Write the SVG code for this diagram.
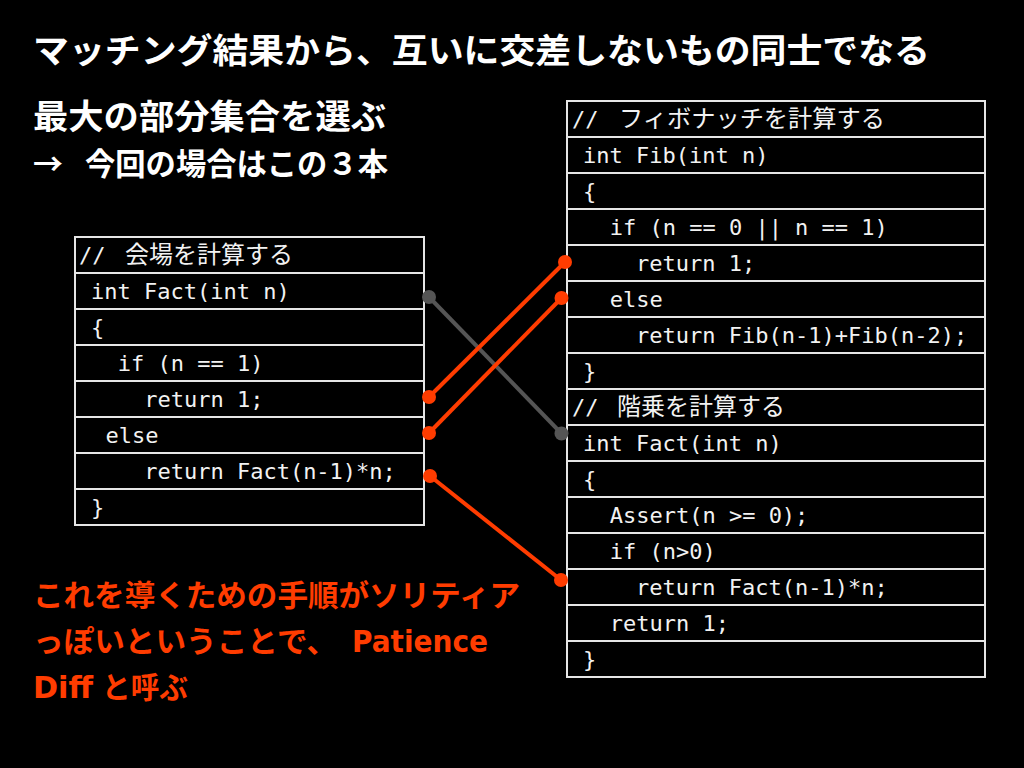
<svg xmlns="http://www.w3.org/2000/svg" width="1024" height="768" viewBox="0 0 1024 768">
<defs>
<style>
.bg{fill:#000}
.row{fill:#000;stroke:#e6e6e6;stroke-width:2}
.code{font-family:"DejaVu Sans Mono","Liberation Mono","Noto Sans CJK JP",monospace;font-size:22px;fill:#f2f2f2}
.jp{font-family:"Noto Sans CJK JP","Noto Sans",sans-serif;font-size:24px;fill:#f2f2f2}
.title{font-family:"Noto Sans CJK JP","Noto Sans",sans-serif;font-weight:700;font-size:34px;fill:#fff}
.note{font-family:"Noto Sans CJK JP","Noto Sans",sans-serif;font-weight:700;font-size:30px;fill:#ff3c00}
.latin{font-family:"DejaVu Sans","Noto Sans",sans-serif;font-weight:700;font-size:30px;fill:#ff3c00}
.gline{stroke:#555;stroke-width:4;fill:none}
.oline{stroke:#ff3c00;stroke-width:4;fill:none}
.gdot{fill:#555}
.odot{fill:#ff3c00}
</style>
</defs>
<rect class="bg" x="0" y="0" width="1024" height="768"/>

<g id="title">
<text class="title" x="33" y="63" textLength="897" lengthAdjust="spacingAndGlyphs">マッチング結果から、互いに交差しないもの同士でなる</text>
<text class="title" x="33" y="129" textLength="353" lengthAdjust="spacingAndGlyphs">最大の部分集合を選ぶ</text>
<text class="title" x="33" y="175" font-size="30" textLength="30" lengthAdjust="spacingAndGlyphs" style="font-size:30px">→</text>
<text class="title" x="85" y="175" textLength="303" lengthAdjust="spacingAndGlyphs" style="font-size:31px">今回の場合はこの３本</text>
</g>

<g id="left-table">
<rect class="row" x="75" y="237" width="349" height="36"/>
<rect class="row" x="75" y="273" width="349" height="36"/>
<rect class="row" x="75" y="309" width="349" height="36"/>
<rect class="row" x="75" y="345" width="349" height="36"/>
<rect class="row" x="75" y="381" width="349" height="36"/>
<rect class="row" x="75" y="417" width="349" height="36"/>
<rect class="row" x="75" y="453" width="349" height="36"/>
<rect class="row" x="75" y="489" width="349" height="36"/>
<text class="code" x="79" y="263">//</text>
<text class="jp" x="125" y="263">会場を計算する</text>
<text class="code" x="91" y="299">int Fact(int n)</text>
<text class="code" x="91" y="335">{</text>
<text class="code" x="117.7" y="371">if (n == 1)</text>
<text class="code" x="144.2" y="407">return 1;</text>
<text class="code" x="105.5" y="443">else</text>
<text class="code" x="144.2" y="479">return Fact(n-1)*n;</text>
<text class="code" x="91" y="515">}</text>
</g>

<g id="right-table">
<rect class="row" x="567" y="101" width="418" height="36"/>
<rect class="row" x="567" y="137" width="418" height="36"/>
<rect class="row" x="567" y="173" width="418" height="36"/>
<rect class="row" x="567" y="209" width="418" height="36"/>
<rect class="row" x="567" y="245" width="418" height="36"/>
<rect class="row" x="567" y="281" width="418" height="36"/>
<rect class="row" x="567" y="317" width="418" height="36"/>
<rect class="row" x="567" y="353" width="418" height="36"/>
<rect class="row" x="567" y="389" width="418" height="36"/>
<rect class="row" x="567" y="425" width="418" height="36"/>
<rect class="row" x="567" y="461" width="418" height="36"/>
<rect class="row" x="567" y="497" width="418" height="36"/>
<rect class="row" x="567" y="533" width="418" height="36"/>
<rect class="row" x="567" y="569" width="418" height="36"/>
<rect class="row" x="567" y="605" width="418" height="36"/>
<rect class="row" x="567" y="641" width="418" height="36"/>
<text class="code" x="572" y="127">//</text>
<text class="jp" x="619" y="127" textLength="266" lengthAdjust="spacingAndGlyphs">フィボナッチを計算する</text>
<text class="code" x="583" y="163">int Fib(int n)</text>
<text class="code" x="583" y="199">{</text>
<text class="code" x="609.7" y="235">if (n == 0 || n == 1)</text>
<text class="code" x="636" y="271">return 1;</text>
<text class="code" x="609.7" y="307">else</text>
<text class="code" x="636" y="343">return Fib(n-1)+Fib(n-2);</text>
<text class="code" x="583" y="379">}</text>
<text class="code" x="572" y="415">//</text>
<text class="jp" x="617" y="415">階乗を計算する</text>
<text class="code" x="583" y="451">int Fact(int n)</text>
<text class="code" x="583" y="487">{</text>
<text class="code" x="609.7" y="523">Assert(n &gt;= 0);</text>
<text class="code" x="609.7" y="559">if (n&gt;0)</text>
<text class="code" x="636" y="595">return Fact(n-1)*n;</text>
<text class="code" x="609.7" y="631">return 1;</text>
<text class="code" x="583" y="667">}</text>
</g>

<g id="connectors">
<line class="gline" x1="429" y1="297" x2="561.5" y2="433.5"/>
<circle class="gdot" cx="429" cy="297" r="7"/>
<circle class="gdot" cx="561.5" cy="433.5" r="7"/>
<line class="oline" x1="429" y1="397" x2="565" y2="262"/>
<circle class="odot" cx="429" cy="397" r="7"/>
<circle class="odot" cx="565" cy="262" r="7"/>
<line class="oline" x1="429" y1="433" x2="561.5" y2="298"/>
<circle class="odot" cx="429" cy="433" r="7"/>
<circle class="odot" cx="561.5" cy="298" r="7"/>
<line class="oline" x1="430" y1="476" x2="561" y2="580"/>
<circle class="odot" cx="430" cy="476" r="7"/>
<circle class="odot" cx="561" cy="580" r="7"/>
</g>

<g id="note">
<text class="note" x="33" y="606" textLength="487" lengthAdjust="spacingAndGlyphs">これを導くための手順がソリティア</text>
<text class="note" x="33" y="652" textLength="304" lengthAdjust="spacingAndGlyphs">っぽいということで、</text>
<text class="latin" x="352" y="652" textLength="136" lengthAdjust="spacingAndGlyphs">Patience</text>
<text class="latin" x="33" y="698" textLength="60" lengthAdjust="spacingAndGlyphs">Diff</text>
<text class="note" x="102" y="698" textLength="86" lengthAdjust="spacingAndGlyphs">と呼ぶ</text>
</g>
</svg>
